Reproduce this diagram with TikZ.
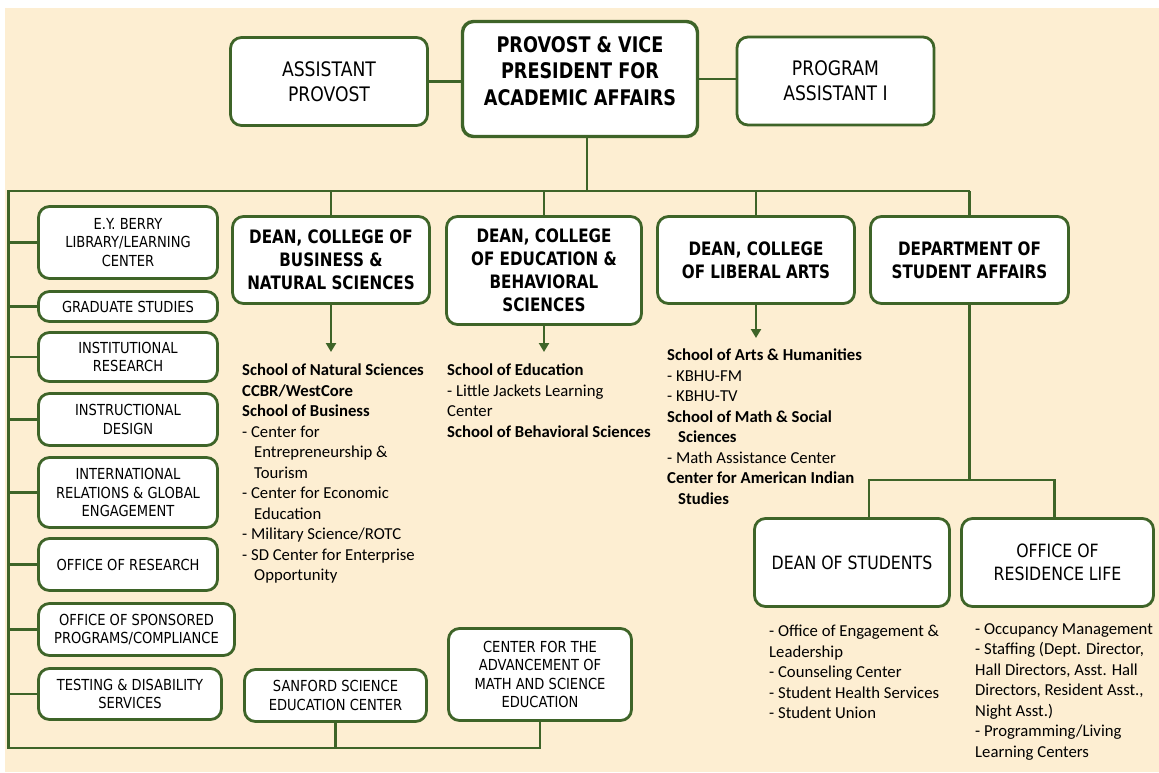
\documentclass[tikz,border=0pt]{standalone}
\usepackage{fontspec}
\usepackage{tikz}
\usetikzlibrary{arrows.meta}
\setmainfont{Carlito}
\newfontfamily\boxfont{DejaVu Sans}[FakeStretch=0.86]
\newfontfamily\boxbold{DejaVu Sans}[FakeStretch=0.82]
\definecolor{leaf}{RGB}{62,100,40}
\definecolor{cream}{RGB}{253,238,210}

\begin{document}
\begin{tikzpicture}[x=1pt, y=-1pt,
		box/.style = {draw=leaf, line width=2.8pt, fill=white, rounded corners=11pt, align=center, inner sep=0pt, font=\boxfont\fontsize{15.2}{18.6}\selectfont},
		head/.style = {box, font=\boxfont\fontsize{20}{25}\selectfont},
		dean/.style = {box, font=\boxbold\bfseries\fontsize{18.5}{23}\selectfont},
		side/.style = {box, minimum width=179pt},
		list/.style = {anchor=north west, align=left, inner sep=0pt, font=\fontsize{16.7}{20.5}\selectfont},
		link/.style = {draw=leaf, line width=2.8pt}]
		\useasboundingbox (0,0) rectangle (1159,772);
		\fill[cream] (5,8) rectangle (1159,772);
		
		% top row
		\node[box, line width=3.4pt, font=\boxbold\bfseries\fontsize{21.5}{26.5}\selectfont, minimum width=235pt, minimum height=115pt, text depth=16pt] (provost) at (580,79) {PROVOST \& VICE\\PRESIDENT FOR\\ACADEMIC AFFAIRS};
		\node[head, minimum width=197pt, minimum height=88pt] (assistant) at (329,81.5) {ASSISTANT\\PROVOST};
		\node[head, minimum width=197pt, minimum height=88pt] (program) at (835.5,81) {PROGRAM\\ASSISTANT I};
		
		% deans
		\node[dean, minimum width=197pt, minimum height=87pt] (bns) at (331,260) {DEAN, COLLEGE OF\\BUSINESS \&\\NATURAL SCIENCES};
		\node[dean, minimum width=195pt, minimum height=108pt] (ebs) at (544,270.5) {DEAN, COLLEGE\\OF EDUCATION \&\\BEHAVIORAL\\SCIENCES};
		\node[dean, minimum width=197pt, minimum height=87pt] (la) at (756,260) {DEAN, COLLEGE\\OF LIBERAL ARTS};
		\node[dean, minimum width=198pt, minimum height=87pt] (sa) at (969.5,260) {DEPARTMENT OF\\STUDENT AFFAIRS};
		
		% left column
		\node[side, minimum height=72pt] (berry) at (128,242.5) {E.Y. BERRY\\LIBRARY/LEARNING\\CENTER};
		\node[side, minimum height=30pt] (grad) at (128,306.5) {GRADUATE STUDIES};
		\node[side, minimum height=49pt] (inst) at (128,357) {INSTITUTIONAL\\RESEARCH};
		\node[side, minimum height=52pt] (design) at (128,419.5) {INSTRUCTIONAL\\DESIGN};
		\node[side, minimum height=70pt] (intl) at (128,492.5) {INTERNATIONAL\\RELATIONS \& GLOBAL\\ENGAGEMENT};
		\node[side, minimum height=52pt] (research) at (128,564.5) {OFFICE OF RESEARCH};
		\node[side, minimum width=196pt, minimum height=52pt] (sponsor) at (136.5,629.5) {OFFICE OF SPONSORED\\PROGRAMS/COMPLIANCE};
		\node[side, minimum width=183pt, minimum height=51pt] (testing) at (130,694) {TESTING \& DISABILITY\\SERVICES};
		\node[box, minimum width=182pt, minimum height=52pt] (sanford) at (335.5,695.5) {SANFORD SCIENCE\\EDUCATION CENTER};
		\node[box, minimum width=183pt, minimum height=92pt] (camse) at (540,674.5) {CENTER FOR THE\\ADVANCEMENT OF\\MATH AND SCIENCE\\EDUCATION};
		
		% student affairs
		\node[box, font=\boxfont\fontsize{18.3}{22.5}\selectfont, minimum width=195pt, minimum height=88pt] (dos) at (852,562.5) {DEAN OF STUDENTS};
		\node[box, font=\boxfont\fontsize{18.3}{22.5}\selectfont, minimum width=192pt, minimum height=88pt] (res) at (1057.5,562.5) {OFFICE OF\\RESIDENCE LIFE};
		
		% lists
		\node[list] (bnslist) at (242,364) {\textbf{School of Natural Sciences}\\\textbf{CCBR/WestCore}\\\textbf{School of Business}\\- Center for\\\hspace*{12pt}Entrepreneurship \&\\\hspace*{12pt}Tourism\\- Center for Economic\\\hspace*{12pt}Education\\- Military Science/ROTC\\- SD Center for Enterprise\\\hspace*{12pt}Opportunity};
		\node[list] (ebslist) at (447,364) {\textbf{School of Education}\\- Little Jackets Learning\\Center\\\textbf{School of Behavioral Sciences}};
		\node[list] (lalist) at (667,349) {\textbf{School of Arts \& Humanities}\\- KBHU-FM\\- KBHU-TV\\\textbf{School of Math \& Social}\\\hspace*{11pt}\textbf{Sciences}\\- Math Assistance Center\\\textbf{Center for American Indian}\\\hspace*{11pt}\textbf{Studies}};
		\node[list] (doslist) at (769,625) {- Office of Engagement \&\\Leadership\\- Counseling Center\\- Student Health Services\\- Student Union};
		\node[list] (reslist) at (975,623) {- Occupancy Management\\- Staffing (Dept. Director,\\Hall Directors, Asst. Hall\\Directors, Resident Asst.,\\Night Asst.)\\- Programming/Living\\Learning Centers};
		
		\coordinate (top) at (8.5,191);
		\coordinate (bottom) at (8.5,748);
		\coordinate (split) at (969.5,480);
		\coordinate (bnsend) at (331,352);
		\coordinate (ebsend) at (544,352);
		\coordinate (laend) at (756,338);
		
		\draw[link] (assistant.east) -- (assistant.east -| provost.west);
		\draw[link] (provost.east) -- (provost.east -| program.west);
		\draw[link] ([xshift=7pt]provost.south) -- ([xshift=7pt]provost.south |- top);
		\draw[link] (sa.north |- top) -- (top) -- (bottom) -| (camse.south);
		\draw[link] (sanford.south) -- (sanford.south |- bottom);
		\foreach \n in {bns, ebs, la, sa}
			\draw[link] (\n.north) -- (\n.north |- top);
		\foreach \n in {berry, grad, inst, design, intl, research, sponsor, testing}
			\draw[link] (\n.west) -- (\n.west -| top);
		\draw[link, -{Triangle[width=10pt, length=9pt]}] (bns.south) -- (bnsend);
		\draw[link, -{Triangle[width=10pt, length=9pt]}] (ebs.south) -- (ebsend);
		\draw[link, -{Triangle[width=10pt, length=9pt]}] (la.south) -- (laend);
		\draw[link] (sa.south) -- (split);
		\draw[link] ([xshift=17pt]dos.north) |- (split) -| ([xshift=-3pt]res.north);
	\end{tikzpicture}
\end{document}
